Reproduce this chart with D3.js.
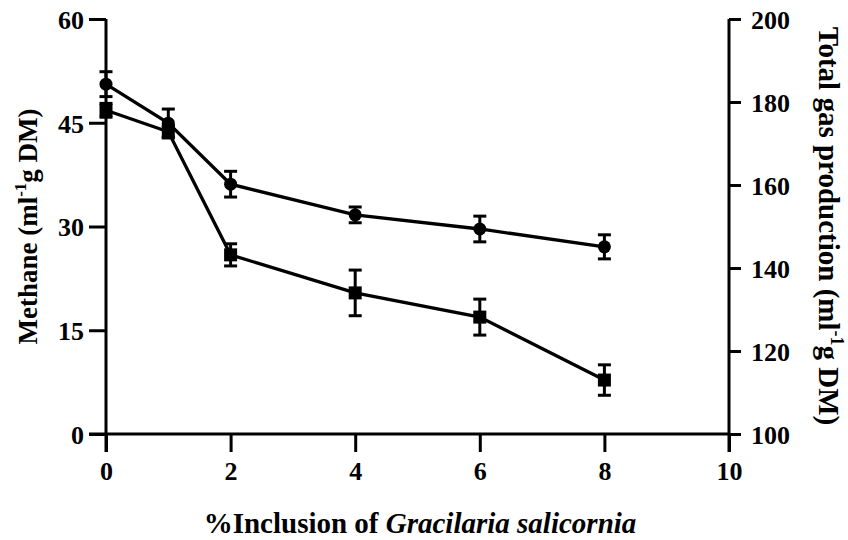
<!DOCTYPE html>
<html>
<head>
<meta charset="utf-8">
<script src="https://cdn.jsdelivr.net/npm/d3@7"></script>
<style>
  html, body { margin: 0; padding: 0; background: #fff; }
  svg { display: block; }
  text { font-family: "Liberation Serif", "Times New Roman", serif; fill: #000; }
</style>
</head>
<body>
<svg id="chart" width="848" height="540"></svg>
<script>
// Data
const inclusion = [0, 1, 2, 4, 6, 8];
// Methane (ml/g DM), squares, left axis
const methane = [46.8, 43.7, 25.9, 20.4, 16.9, 7.8];
const methaneErr = [1.0, 0.9, 1.6, 3.3, 2.6, 2.2];
// Total gas production (ml/g DM), circles, right axis
const totalGas = [184.3, 174.9, 160.2, 152.8, 149.4, 145.1];
const totalGasErr = [3.0, 3.4, 3.1, 1.9, 3.1, 2.9];

const xTicks = [0, 2, 4, 6, 8, 10];
const yLeftTicks = [0, 15, 30, 45, 60];
const yRightTicks = [100, 120, 140, 160, 180, 200];

(function () {
const svg = d3.select("#chart");
const mL = 106, mR = 729, mT = 19, mB = 434;

const x = d3.scaleLinear().domain([0, 10]).range([mL, mR]);
const yL = d3.scaleLinear().domain([0, 60]).range([mB, mT]);
const yR = d3.scaleLinear().domain([100, 200]).range([mB, mT]);

// Axes
const gx = svg.append("g").attr("transform", `translate(0,${mB})`)
  .call(d3.axisBottom(x).tickValues(xTicks).tickSize(18).tickPadding(10).tickSizeOuter(0));
const gl = svg.append("g").attr("transform", `translate(${mL},0)`)
  .call(d3.axisLeft(yL).tickValues(yLeftTicks).tickSize(17).tickPadding(5).tickSizeOuter(0));
const gr = svg.append("g").attr("transform", `translate(${mR},0)`)
  .call(d3.axisRight(yR).tickValues(yRightTicks).tickSize(12).tickPadding(10).tickSizeOuter(0));

[gx, gl, gr].forEach(g => {
  g.select(".domain").attr("stroke", "#000").attr("stroke-width", 3);
  g.selectAll(".tick line").attr("stroke", "#000").attr("stroke-width", 3);
  g.selectAll(".tick text").attr("font-size", 26).attr("font-weight", "bold")
    .attr("font-family", "'Liberation Serif', serif").attr("fill", "#000");
});
gx.select(".domain").attr("d", `M${mL - 17},0H${mR}`);
gr.select(".domain").attr("d", `M0,${mT}V${mB + 18}`);
gl.select(".domain").attr("d", `M0,${mT}V${mB + 18}`);
gr.selectAll(".tick text").attr("dy", "0.36em");
gl.selectAll(".tick text").attr("dy", "0.36em");

// Lines
const lineM = d3.line().x((d, i) => x(inclusion[i])).y(d => yL(d));
const lineT = d3.line().x((d, i) => x(inclusion[i])).y(d => yR(d));

svg.append("path").datum(totalGas).attr("d", lineT)
  .attr("fill", "none").attr("stroke", "#000").attr("stroke-width", 3.3);
svg.append("path").datum(methane).attr("d", lineM)
  .attr("fill", "none").attr("stroke", "#000").attr("stroke-width", 3.3);

// Error bars
function errorBars(vals, errs, scale) {
  const g = svg.append("g").attr("stroke", "#000").attr("stroke-width", 3);
  vals.forEach((v, i) => {
    const cx = x(inclusion[i]);
    const y1 = scale(v + errs[i]), y2 = scale(v - errs[i]);
    g.append("line").attr("x1", cx).attr("x2", cx).attr("y1", y1).attr("y2", y2);
    g.append("line").attr("x1", cx - 6.5).attr("x2", cx + 6.5).attr("y1", y1).attr("y2", y1);
    g.append("line").attr("x1", cx - 6.5).attr("x2", cx + 6.5).attr("y1", y2).attr("y2", y2);
  });
}
errorBars(totalGas, totalGasErr, yR);
errorBars(methane, methaneErr, yL);

// Markers
svg.append("g").selectAll("circle").data(totalGas).join("circle")
  .attr("cx", (d, i) => x(inclusion[i])).attr("cy", d => yR(d)).attr("r", 6.5).attr("fill", "#000");
svg.append("g").selectAll("rect").data(methane).join("rect")
  .attr("x", (d, i) => x(inclusion[i]) - 6.5).attr("y", d => yL(d) - 6.5)
  .attr("width", 13).attr("height", 13).attr("fill", "#000");

// Axis titles
const lt = svg.append("text")
  .attr("transform", `translate(37,${(mT + mB) / 2}) rotate(-90)`)
  .attr("text-anchor", "middle").attr("font-size", 27).attr("font-weight", "bold");
lt.append("tspan").text("Methane (ml");
lt.append("tspan").attr("font-size", 17).attr("dy", -11).text("-1");
lt.append("tspan").attr("dy", 11).text("g DM)");

const rt = svg.append("text")
  .attr("transform", `translate(819,226) rotate(90)`)
  .attr("text-anchor", "middle").attr("font-size", 29).attr("font-weight", "bold");
rt.append("tspan").text("Total gas production (ml");
rt.append("tspan").attr("font-size", 18).attr("dy", -12).text("-1");
rt.append("tspan").attr("dy", 12).text("g DM)");

const xt = svg.append("text")
  .attr("x", 420).attr("y", 533)
  .attr("text-anchor", "middle").attr("font-size", 29).attr("font-weight", "bold");
xt.append("tspan").text("%Inclusion of ");
xt.append("tspan").attr("font-style", "italic").text("Gracilaria salicornia");
})();
</script>
</body>
</html>
